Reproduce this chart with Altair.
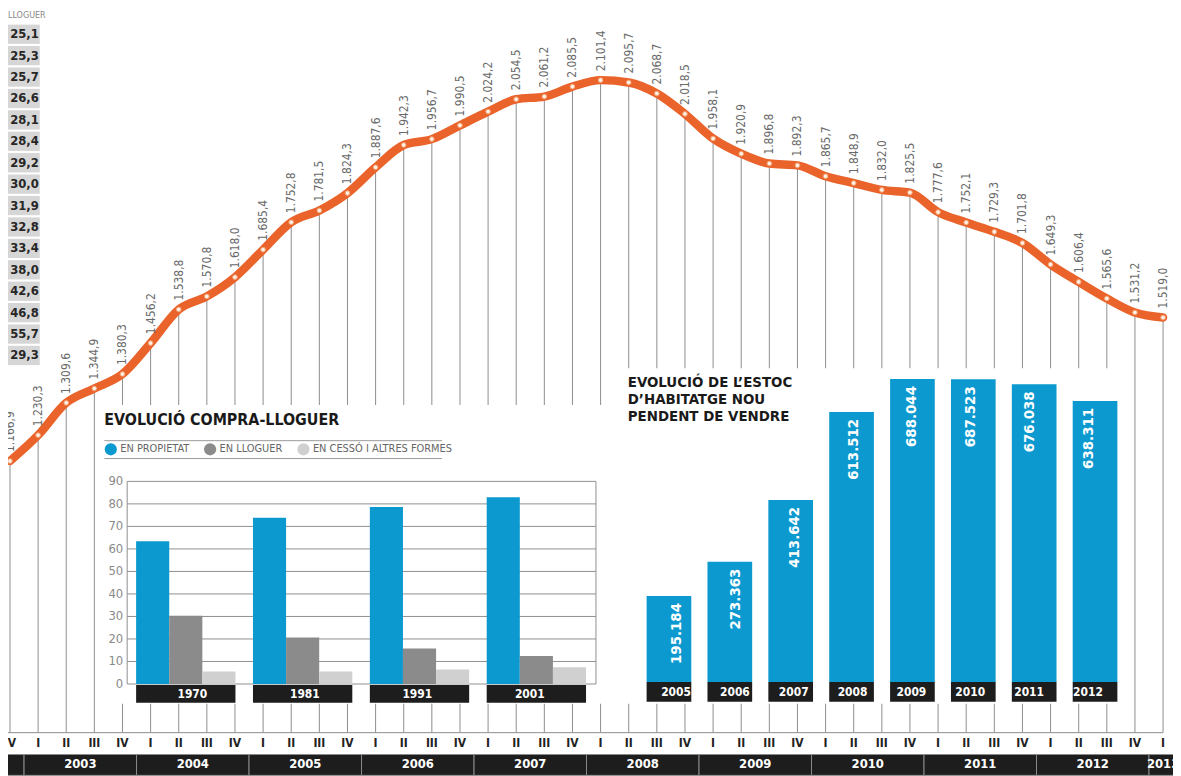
import altair as alt
import pandas as pd

# ---------------- data ----------------
quarters = ["IV"] + ["I", "II", "III", "IV"] * 10 + ["I"]
prices = [1166.9, 1230.3, 1309.6, 1344.9, 1380.3, 1456.2, 1538.8, 1570.8, 1618.0,
          1685.4, 1752.8, 1781.5, 1824.3, 1887.6, 1942.3, 1956.7, 1990.5,
          2024.2, 2054.5, 2061.2, 2085.5, 2101.4, 2095.7, 2068.7, 2018.5,
          1958.1, 1920.9, 1896.8, 1892.3, 1865.7, 1848.9, 1832.0, 1825.5,
          1777.6, 1752.1, 1729.3, 1701.8, 1649.3, 1606.4, 1565.6, 1531.2, 1519.0]
band_years = ["2002", "2003", "2004", "2005", "2006", "2007", "2008", "2009",
              "2010", "2011", "2012", "2013"]
band_labels = ["", "2003", "2004", "2005", "2006", "2007", "2008", "2009",
               "2010", "2011", "2012", "2013"]

lloguer = ["25,1", "25,3", "25,7", "26,6", "28,1", "28,4", "29,2", "30,0",
           "31,9", "32,8", "33,4", "38,0", "42,6", "46,8", "55,7", "29,3"]

census_years = ["1970", "1981", "1991", "2001"]
series_names = ["EN PROPIETAT", "EN LLOGUER", "EN CESSÓ I ALTRES FORMES"]
propietat = [63.4, 73.9, 78.6, 82.9]
en_lloguer = [30.3, 20.6, 15.8, 12.4]
cesso = [5.6, 5.5, 6.4, 7.4]
grid_ticks = [0, 10, 20, 30, 40, 50, 60, 70, 80, 90]

stock_years = ["2005", "2006", "2007", "2008", "2009", "2010", "2011", "2012"]
stock = [195184, 273363, 413642, 613512, 688044, 687523, 676038, 638311]

# ---------------- style ----------------
FONT = "Liberation Sans Narrow, DejaVu Sans Condensed, Arial Narrow, sans-serif"
ORANGE = "#e9632b"
BLUE = "#0b99cf"
DGREY = "#8b8b8b"
LGREY = "#d0d0d0"
BLACK = "#1d1d1d"


def fmt_price(v):
    s = f"{v:,.1f}"
    return s.replace(",", "X").replace(".", ",").replace("X", ".")


df_main = pd.DataFrame({
    "i": list(range(len(prices))),
    "price": prices,
    "q": quarters,
    "label": [fmt_price(v) for v in prices],
})

starts = [0.5 + 4 * (int(y) - 2003) for y in band_years]
df_band = pd.DataFrame({
    "year": band_years,
    "text": band_labels,
    "start": starts,
    "end": [s + 4 for s in starts],
    "mid": [s + 2 if y != "2013" else s + 0.5 for s, y in zip(starts, band_years)],
})

df_llog = pd.DataFrame({"lab": lloguer})

rows = []
for k, y in enumerate(census_years):
    for name, vals in zip(series_names, [propietat, en_lloguer, cesso]):
        rows.append({"year": y, "serie": name, "value": vals[k]})
df_census = pd.DataFrame(rows)
df_cyears = pd.DataFrame({"year": census_years})
df_grid = pd.DataFrame({"t": grid_ticks})

df_stock = pd.DataFrame({
    "year": stock_years,
    "value": stock,
    "label": [f"{v:,}".replace(",", ".") for v in stock],
})
one = pd.DataFrame({"k": [0]})

# ---------------- scales ----------------
sx_main = alt.Scale(domain=[0, len(prices) - 1], range=[2, 1163])
sy_main = alt.Scale(domain=[1519.0, 2101.4], range=[309, 70])
xq = alt.X("i:Q", scale=sx_main, axis=None)
yp = alt.Y("price:Q", scale=sy_main, axis=None)

sx_census = alt.Scale(domain=census_years, range=[129, 582], paddingInner=0.15, paddingOuter=0)
sy_census = alt.Scale(domain=[0, 90], range=[678, 474])
sx_stock = alt.Scale(domain=stock_years, range=[643, 1117], paddingInner=0.266, paddingOuter=0)
sy_stock = alt.Scale(domain=[0, 700000], range=[676, 365.7])

# ---------------- main chart ----------------
drops = alt.Chart(df_main).mark_rule(color="#8d8d8d", strokeWidth=1).encode(
    x=xq, y=yp, y2=alt.value(727))
axis_line = alt.Chart(one).mark_rule(color="#8d8d8d", strokeWidth=1).encode(
    x=alt.value(0), x2=alt.value(1163), y=alt.value(727))
qlabels = alt.Chart(df_main).mark_text(
    font=FONT, fontWeight="bold", fontSize=12, color="#222", baseline="middle"
).encode(x=xq, y=alt.value(737), text="q:N")
band = alt.Chart(df_band).mark_rect(color=BLACK, stroke="#8a8a8a", strokeWidth=1).encode(
    x=alt.X("start:Q", scale=sx_main, axis=None), x2="end:Q",
    y=alt.value(749), y2=alt.value(770))
band_text = alt.Chart(df_band).mark_text(
    font=FONT, fontWeight="bold", fontSize=13, color="white", baseline="middle"
).encode(x=alt.X("mid:Q", scale=sx_main, axis=None), y=alt.value(759), text="text:N")

line = alt.Chart(df_main).mark_line(
    color=ORANGE, strokeWidth=8.5, interpolate="monotone", strokeJoin="round", strokeCap="round"
).encode(x=xq, y=yp)
pts = alt.Chart(df_main).mark_circle(
    size=22, color="#fdf1e6", stroke="#f3a071", strokeWidth=1, opacity=1
).encode(x=xq, y=yp)
plabels = alt.Chart(df_main).mark_text(
    angle=270, align="left", baseline="middle", dx=9, font=FONT, fontSize=12, color="#6a6a6a"
).encode(x=xq, y=yp, text="label:N")

# ---------------- lloguer column ----------------
sy_llog = alt.Scale(domain=lloguer, range=[13, 358], paddingInner=0.1, paddingOuter=0.05)
llog_box = alt.Chart(df_llog).mark_rect(color="#d6d6d6").encode(
    y=alt.Y("lab:N", scale=sy_llog, axis=None), x=alt.value(0), x2=alt.value(32))
llog_txt = alt.Chart(df_llog).mark_text(
    align="right", baseline="middle", font=FONT, fontWeight="bold", fontSize=13, color="#262626"
).encode(y=alt.Y("lab:N", scale=sy_llog, axis=None), x=alt.value(31), text="lab:N")
llog_title = alt.Chart(one).mark_text(
    text="LLOGUER", align="left", baseline="top", font=FONT, fontSize=9, color="#888"
).encode(x=alt.value(0), y=alt.value(0))

# ---------------- left inset ----------------
bg_left = alt.Chart(one).mark_rect(color="white").encode(
    x=alt.value(92), x2=alt.value(604), y=alt.value(397), y2=alt.value(698))
title_left = alt.Chart(one).mark_text(
    text="EVOLUCIÓ COMPRA-LLOGUER", align="left", baseline="middle",
    font=FONT, fontWeight="bold", fontSize=16, color="#1a1a1a"
).encode(x=alt.value(97), y=alt.value(412))
leg_lines = alt.Chart(pd.DataFrame({"yy": [433, 451]})).mark_rule(color="#9a9a9a").encode(
    y=alt.Y("yy:Q", scale=alt.Scale(domain=[0, 768], range=[0, 768]), axis=None),
    x=alt.value(97), x2=alt.value(437))
grid = alt.Chart(df_grid).mark_rule(color="#8f8f8f", strokeWidth=1).encode(
    y=alt.Y("t:Q", scale=sy_census, axis=None), x=alt.value(120), x2=alt.value(592))
frame = alt.Chart(pd.DataFrame({"xx": [120, 592]})).mark_rule(color="#8f8f8f").encode(
    x=alt.X("xx:Q", scale=alt.Scale(domain=[0, 1173], range=[0, 1173]), axis=None),
    y=alt.value(474), y2=alt.value(678))
ylabels = alt.Chart(df_grid).mark_text(
    align="right", baseline="middle", font=FONT, fontSize=13, color="#8a8a8a"
).encode(y=alt.Y("t:Q", scale=sy_census, axis=None), x=alt.value(116), text="t:Q")
bars_left = alt.Chart(df_census).mark_bar().encode(
    x=alt.X("year:N", scale=sx_census, axis=None),
    xOffset=alt.XOffset("serie:N", scale=alt.Scale(domain=series_names)),
    y=alt.Y("value:Q", scale=sy_census, axis=None),
    color=alt.Color("serie:N", scale=alt.Scale(domain=series_names, range=[BLUE, DGREY, LGREY]),
                    legend=alt.Legend(orient="none", legendX=97, legendY=435, direction="horizontal",
                                      title=None, symbolType="circle", symbolSize=150,
                                      symbolStrokeWidth=0, labelFont=FONT, labelFontSize=11,
                                      labelColor="#666", columnPadding=14, labelOffset=3,
                                      labelLimit=300, padding=0)),
)
ybox_left = alt.Chart(df_cyears).mark_bar(color=BLACK).encode(
    x=alt.X("year:N", scale=sx_census, axis=None), y=alt.value(679), y2=alt.value(697))
ytxt_left = alt.Chart(df_cyears).mark_text(
    font=FONT, fontWeight="bold", fontSize=12, color="white", baseline="middle"
).encode(x=alt.X("year:N", scale=sx_census, axis=None), y=alt.value(688), text="year:N")

# ---------------- right inset ----------------
bg_right = alt.Chart(one).mark_rect(color="white").encode(
    x=alt.value(616), x2=alt.value(1124), y=alt.value(360), y2=alt.value(698))
title_right = alt.Chart(one).mark_text(
    text=["EVOLUCIÓ DE L’ESTOC", "D’HABITATGE NOU", "PENDENT DE VENDRE"],
    align="left", baseline="top", lineHeight=17,
    font=FONT, fontWeight="bold", fontSize=15, color="#1a1a1a"
).encode(x=alt.value(624), y=alt.value(367))
bars_right = alt.Chart(df_stock).mark_bar(color=BLUE).encode(
    x=alt.X("year:N", scale=sx_stock, axis=None),
    y=alt.Y("value:Q", scale=sy_stock, axis=None))
vals_right = alt.Chart(df_stock).mark_text(
    angle=270, align="right", baseline="middle", dx=-7,
    font=FONT, fontWeight="bold", fontSize=15, color="white"
).encode(x=alt.X("year:N", scale=sx_stock, axis=None),
         y=alt.Y("value:Q", scale=sy_stock, axis=None), text="label:N")
ybox_right = alt.Chart(df_stock).mark_bar(color=BLACK).encode(
    x=alt.X("year:N", scale=sx_stock, axis=None), y=alt.value(676), y2=alt.value(696))
ytxt_right = alt.Chart(df_stock).mark_text(
    font=FONT, fontWeight="bold", fontSize=12, color="white", baseline="middle"
).encode(x=alt.X("year:N", scale=sx_stock, axis=None), y=alt.value(686), text="year:N")

chart = alt.layer(
    drops, axis_line, qlabels, band, band_text,
    bg_left, grid, frame, ylabels, bars_left, ybox_left, ytxt_left, leg_lines, title_left,
    bg_right, bars_right, vals_right, ybox_right, ytxt_right, title_right,
    line, pts, plabels,
    llog_box, llog_txt, llog_title,
).resolve_scale(
    x="independent", y="independent", color="independent"
).properties(
    width=1173, height=768,
    autosize=alt.AutoSizeParams(type="none"), padding=0, background="white"
).configure_view(stroke=None)

chart.save("out.html", embed_options={"renderer": "svg", "actions": False})
